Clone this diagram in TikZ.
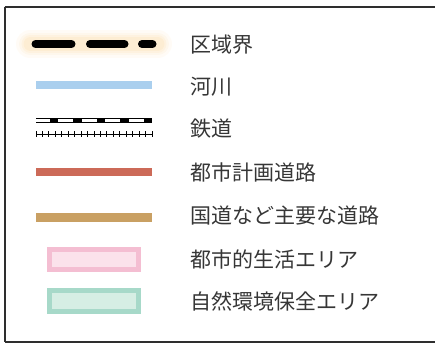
\documentclass[tikz,border=0pt]{standalone}
\usepackage{fontspec}
\newfontfamily\jpfont{Noto Sans CJK JP}
\definecolor{txtc}{HTML}{363636}
\definecolor{framec}{HTML}{2E2E2E}
\definecolor{riverc}{HTML}{AACFEE}
\definecolor{cityroad}{HTML}{CC6A58}
\definecolor{natroad}{HTML}{C9A063}
\definecolor{glowc}{HTML}{FBD290}
\definecolor{pinkb}{HTML}{F4BED2}
\definecolor{pinkf}{HTML}{FBE2EB}
\definecolor{greenb}{HTML}{A7D9C9}
\definecolor{greenf}{HTML}{D6EEE4}
\tikzset{
  lbl/.style={anchor=west, inner sep=0pt, text=txtc, font=\jpfont\fontsize{21}{25}\selectfont},
  symline/.style={line width=#1, line cap=butt},
  framel/.style={framec, line width=2pt},
}
\begin{document}
\begin{tikzpicture}[x=1pt,y=-1pt]
\useasboundingbox (0,0) rectangle (435,345);
\clip (0,0) rectangle (435,345);
% frame (right edge lies outside the picture)
\coordinate (ftl) at (4.5,7);
\coordinate (fbl) at (4.5,342);
\coordinate (ftr) at (450,7);
\coordinate (fbr) at (450,342);
\draw[framel] (ftl) -- (ftr);
\draw[framel] (ftl) -- (fbl);
\draw[framel] (fbl) -- (fbr);
% boundary glow
\foreach \w/\o in {28/0.08,22/0.10,17/0.13,13/0.16} {
  \draw[glowc, opacity=\o, line width=\w pt, line cap=round] (30,44) -- (158,44);
}
% boundary dashes
\draw[black, line width=8pt, line cap=round] (35.5,44) -- (71.5,44);
\draw[black, line width=8pt, line cap=round] (90,44) -- (124.5,44);
\draw[black, line width=8pt, line cap=round] (142,44) -- (152.5,44);
% river
\draw[riverc, symline=8pt] (36,85) -- (152,85);
% railway top
\draw[black, symline=4.6pt] (36,120.5) -- (152,120.5);
\draw[white, symline=2.2pt] (36,120.5) -- (152,120.5);
\foreach \k in {0,...,4} {
  \draw[black, symline=4.6pt] ({50+23.4*\k},120.5) -- ({58.3+23.4*\k},120.5);
}
% railway bottom
\draw[black, line width=1pt] (36,134.4) -- (152,134.4);
\foreach \k in {0,...,18} {
  \draw[black, line width=0.9pt] ({36+6.444*\k},131.4) -- ({36+6.444*\k},137.4);
}
% city planning road
\draw[cityroad, symline=7.8pt] (36,172) -- (152,172);
% national road
\draw[natroad, symline=9pt] (36,217) -- (152,217);
% pink area
\draw[pinkb, fill=pinkf, line width=5pt] (49.5,249.2) rectangle (138.5,269.8);
% green area
\draw[greenb, fill=greenf, line width=5pt] (49.5,290.8) rectangle (138.5,311.5);
% labels
\node[lbl] (l1) at (190,45) {区域界};
\node[lbl] (l2) at (190,86.7) {河川};
\node[lbl] (l3) at (190,128.3) {鉄道};
\node[lbl] (l4) at (190,172.5) {都市計画道路};
\node[lbl] (l5) at (190,215.3) {国道など主要な道路};
\node[lbl] (l6) at (190,259) {都市的生活エリア};
\node[lbl] (l7) at (190,301.7) {自然環境保全エリア};
\end{tikzpicture}
\end{document}
